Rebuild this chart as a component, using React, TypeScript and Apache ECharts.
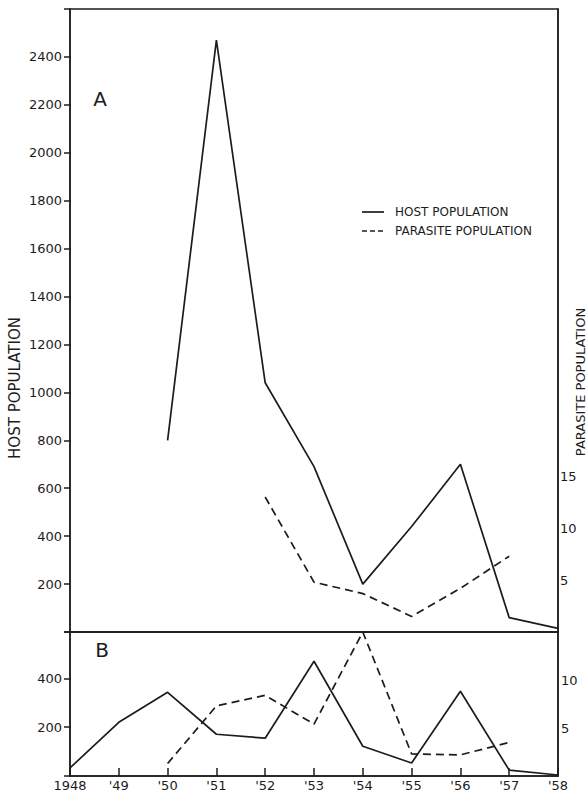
import React, { useEffect, useRef } from "react";
import * as echarts from "echarts";

const years = [1948, 1949, 1950, 1951, 1952, 1953, 1954, 1955, 1956, 1957, 1958];
const yearLabels = ["1948", "'49", "'50", "'51", "'52", "'53", "'54", "'55", "'56", "'57", "'58"];

// Panel A
const hostA: (number | null)[] = [null, null, 800, 2470, 1040, 690, 200, 440, 700, 60, 15];
const parasiteA: (number | null)[] = [null, null, null, null, 13, 4.8, 3.7, 1.5, 4.2, 7.3, null];
// Panel B
const hostB: (number | null)[] = [33, 220, 343, 171, 155, 470, 122, 53, 347, 24, 4];
const parasiteB: (number | null)[] = [null, null, 1.3, 7.3, 8.4, 5.4, 15, 2.3, 2.2, 3.5, null];

const hostTicksA = [200, 400, 600, 800, 1000, 1200, 1400, 1600, 1800, 2000, 2200, 2400];
const parasiteTicksA = [5, 10, 15];
const hostTicksB = [200, 400];
const parasiteTicksB = [5, 10];

const legendNames = ["HOST POPULATION", "PARASITE POPULATION"];

const INK = "#1c1c1c";
const FONT = "DejaVu Sans";

const pairs = (arr: (number | null)[]) =>
  years.map((y, i) => [y, arr[i]]).filter((p) => p[1] !== null);

const showIn = (list: number[]) => (v: number) => (list.indexOf(v) >= 0 ? String(v) : "");

export default function App() {
  const ref = useRef<HTMLDivElement>(null);
  useEffect(() => {
    if (!ref.current) return;
    const chart = echarts.init(ref.current, null, { renderer: "svg" });
    const axisLine = { show: true, lineStyle: { color: INK, width: 1.5 } };
    const labelStyle = { color: INK, fontFamily: FONT, fontSize: 13 };
    const solid = { color: INK, width: 1.7, type: "solid" as const };
    const dashed = { color: INK, width: 1.7, type: [8, 5] as any };
    chart.setOption({
      animation: false,
      backgroundColor: "#ffffff",
      textStyle: { fontFamily: FONT },
      grid: [
        { left: 70, top: 9, width: 488, height: 623, show: true, borderColor: INK, borderWidth: 1.5 },
        { left: 70, top: 632, width: 488, height: 144, show: true, borderColor: INK, borderWidth: 1.5 },
      ],
      xAxis: [
        {
          gridIndex: 0, type: "value", min: 1948, max: 1958, interval: 1,
          axisLine, axisTick: { show: false }, axisLabel: { show: false }, splitLine: { show: false },
        },
        {
          gridIndex: 1, type: "value", min: 1948, max: 1958, interval: 1,
          axisLine,
          axisTick: { show: true, inside: true, length: 8, lineStyle: { color: INK, width: 1.5 } },
          axisLabel: {
            ...labelStyle, margin: 3,
            formatter: (v: number) => yearLabels[years.indexOf(v)] ?? "",
          },
          splitLine: { show: false },
        },
      ],
      yAxis: [
        {
          gridIndex: 0, type: "value", min: 0, max: 2600, interval: 200, position: "left",
          axisLine,
          axisTick: { show: true, length: 6, lineStyle: { color: INK, width: 1.5 } },
          axisLabel: { ...labelStyle, margin: 8, formatter: showIn(hostTicksA) },
          splitLine: { show: false },
        },
        {
          gridIndex: 0, type: "value", min: 0, max: 60, interval: 5, position: "right",
          axisLine,
          axisTick: { show: false },
          axisLabel: { ...labelStyle, margin: 2, formatter: showIn(parasiteTicksA) },
          splitLine: { show: false },
        },
        {
          gridIndex: 1, type: "value", min: 0, max: 590, interval: 200, position: "left",
          axisLine,
          axisTick: { show: true, length: 6, lineStyle: { color: INK, width: 1.5 } },
          axisLabel: { ...labelStyle, margin: 8, formatter: showIn(hostTicksB) },
          splitLine: { show: false },
        },
        {
          gridIndex: 1, type: "value", min: 0, max: 15, interval: 5, position: "right",
          axisLine,
          axisTick: { show: false },
          axisLabel: { ...labelStyle, margin: 3, formatter: showIn(parasiteTicksB) },
          splitLine: { show: false },
        },
      ],
      series: [
        { name: legendNames[0], type: "line", xAxisIndex: 0, yAxisIndex: 0, data: pairs(hostA), symbol: "none", lineStyle: solid, itemStyle: { color: INK } },
        { name: legendNames[1], type: "line", xAxisIndex: 0, yAxisIndex: 1, data: pairs(parasiteA), symbol: "none", lineStyle: dashed, itemStyle: { color: INK } },
        { name: legendNames[0], type: "line", xAxisIndex: 1, yAxisIndex: 2, data: pairs(hostB), symbol: "none", lineStyle: solid, itemStyle: { color: INK } },
        { name: legendNames[1], type: "line", xAxisIndex: 1, yAxisIndex: 3, data: pairs(parasiteB), symbol: "none", lineStyle: dashed, itemStyle: { color: INK } },
      ],
      graphic: [
        { type: "text", x: 100, y: 99, style: { text: "A", fontFamily: FONT, fontSize: 20, fill: INK, align: "center", verticalAlign: "middle" } },
        { type: "text", x: 102, y: 650, style: { text: "B", fontFamily: FONT, fontSize: 20, fill: INK, align: "center", verticalAlign: "middle" } },
        { type: "text", x: 15, y: 388, rotation: Math.PI / 2, style: { text: "HOST POPULATION", fontFamily: FONT, fontSize: 15, fill: INK, align: "center", verticalAlign: "middle" } },
        { type: "text", x: 580, y: 382, rotation: Math.PI / 2, style: { text: "PARASITE POPULATION", fontFamily: FONT, fontSize: 13, fill: INK, align: "center", verticalAlign: "middle" } },
        // legend
        { type: "line", shape: { x1: 362, y1: 212, x2: 384, y2: 212 }, style: { stroke: INK, lineWidth: 1.7 } },
        { type: "line", shape: { x1: 362, y1: 231, x2: 384, y2: 231 }, style: { stroke: INK, lineWidth: 1.7, lineDash: [5, 3] } },
        { type: "text", x: 395, y: 212, style: { text: legendNames[0], fontFamily: FONT, fontSize: 12, fill: INK, align: "left", verticalAlign: "middle" } },
        { type: "text", x: 395, y: 231, style: { text: legendNames[1], fontFamily: FONT, fontSize: 12, fill: INK, align: "left", verticalAlign: "middle" } },
      ],
    });
    return () => chart.dispose();
  }, []);
  return <div ref={ref} style={{ position: "fixed", left: 0, top: 0, width: 588, height: 792 }} />;
}
